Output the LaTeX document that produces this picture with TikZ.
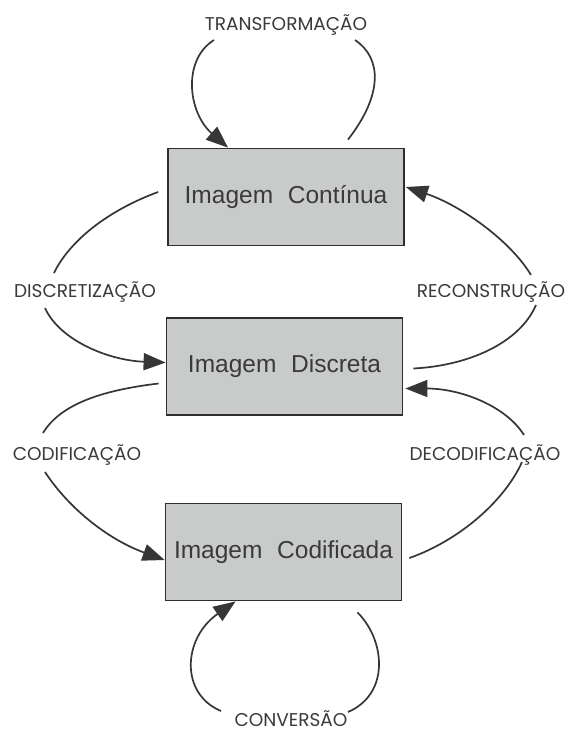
\documentclass[tikz,border=0pt]{standalone}
\usepackage{fontspec}
\setmainfont{Liberation Sans}
\newfontfamily\gotica{Poppins}
\usetikzlibrary{arrows.meta}

\definecolor{cinza}{HTML}{C9CBCB}
\definecolor{borda}{HTML}{2E2E2E}
\definecolor{traco}{HTML}{363636}
\definecolor{letra}{HTML}{3A3A3A}

\begin{document}
\begin{tikzpicture}[x=1pt,y=-1pt]
                    \useasboundingbox[fill=white] (0,0) rectangle (568,732);
                    \begin{scope}[every node/.style={draw=borda,fill=cinza,line width=1.8pt,minimum width=236pt,minimum height=97pt,text=letra,font=\fontsize{24.5}{28}\selectfont}]
                        \node (continua) at (286,197) {Imagem\hspace{0.6em}Contínua};
                        \node (discreta) at (284.5,366.5) {Imagem\hspace{0.6em}Discreta};
                        \node (codificada) at (283.5,552) {Imagem\hspace{0.6em}Codificada};
                    \end{scope}
                    \begin{scope}[every node/.style={inner sep=0pt,text=letra,font=\gotica\fontsize{18.5}{20}\selectfont}]
                        \node (transf) at (286,25) {TRANSFORMAÇÃO};
                        \node (discr) at (85,292) {DISCRETIZAÇÃO};
                        \node (recon) at (491,292) {RECONSTRUÇÃO};
                        \node (codif) at (77,455) {CODIFICAÇÃO};
                        \node (decod) at (485,455) {DECODIFICAÇÃO};
                        \node (conv) at (291,719) {CONVERSÃO};
                    \end{scope}
                    \begin{scope}[line width=1.7pt,draw=traco,>={Triangle[length=22pt,width=17pt]}]
                        % laco de cima
                        \draw ([shift={(62,-8)}]continua.north) .. controls +(35,-45) and +(27,18) .. ([shift={(69,15)}]transf.center);
                        \draw[->] ([shift={(-72,15)}]transf.center) .. controls +(-32,20) and +(-40,-35) .. ([xshift=-58pt]continua.north);
                        % lado esquerdo
                        \draw ([shift={(-9,-5)}]continua.west) .. controls +(-49,18) and +(16,-33) .. ([shift={(-31,-19)}]discr.center);
                        \draw[->] ([shift={(-40,16)}]discr.center) .. controls +(15,33) and +(-56,-2) .. ([yshift=4pt]discreta.west);
                        \draw ([shift={(-7,17)}]discreta.west) .. controls +(-59,7) and +(17,-28) .. ([shift={(-34,-22)}]codif.center);
                        \draw[->] ([shift={(-32,17)}]codif.center) .. controls +(25,38) and +(-55,-20) .. ([yshift=-8pt]codificada.west);
                        % lado direito
                        \draw ([shift={(10,2)}]discreta.east) .. controls +(57,-3) and +(-16,37) .. ([shift={(45,13)}]recon.center);
                        \draw[->] ([shift={(40,-17)}]recon.center) .. controls +(-21,-35) and +(54,18) .. ([shift={(1,-10)}]continua.east);
                        \draw ([shift={(7,6)}]codificada.east) .. controls +(51,-18) and +(-17,38) .. ([shift={(37,7)}]decod.center);
                        \draw[->] ([shift={(39,-20)}]decod.center) .. controls +(-19,-30) and +(54,0) .. ([shift={(2,22)}]discreta.east);
                        % laco de baixo
                        \draw ([shift={(74,11)}]codificada.south) .. controls +(28,28) and +(42,-18) .. ([shift={(57,-7)}]conv.center);
                        \draw[->] ([shift={(-70,-8)}]conv.center) .. controls +(-41,-17) and +(-53,37) .. ([xshift=-48pt]codificada.south);
                    \end{scope}
                \end{tikzpicture}
\end{document}
